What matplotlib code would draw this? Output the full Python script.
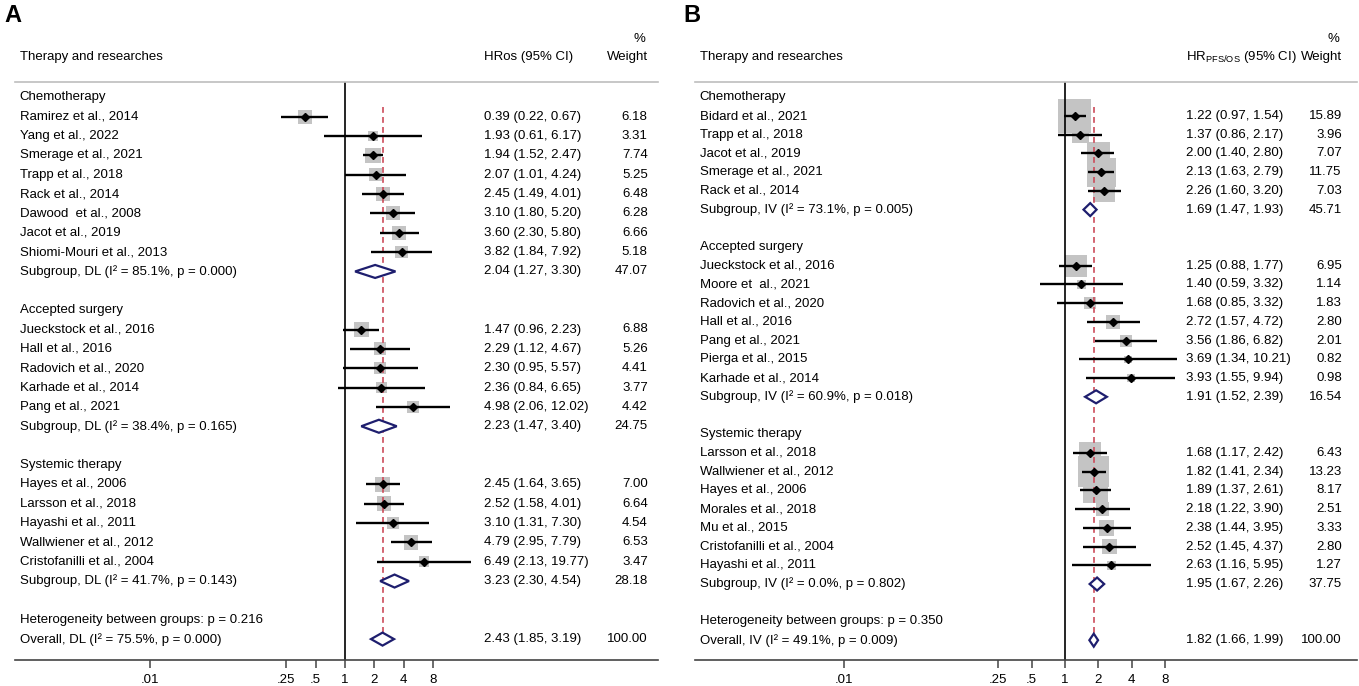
import numpy as np
import matplotlib
matplotlib.use("Agg")
import matplotlib.pyplot as plt

plt.rcParams['font.family'] = ['Liberation Sans', 'DejaVu Sans']
plt.rcParams['font.size'] = 9.5

# ---------------- panel A data (overall survival) ----------------
a_groups = ["Chemotherapy", "Accepted surgery", "Systemic therapy"]
a_names = [
    ["Ramirez et al., 2014", "Yang et al., 2022", "Smerage et al., 2021", "Trapp et al., 2018",
     "Rack et al., 2014", "Dawood  et al., 2008", "Jacot et al., 2019", "Shiomi-Mouri et al., 2013"],
    ["Jueckstock et al., 2016", "Hall et al., 2016", "Radovich et al., 2020", "Karhade et al., 2014",
     "Pang et al., 2021"],
    ["Hayes et al., 2006", "Larsson et al., 2018", "Hayashi et al., 2011", "Wallwiener et al., 2012",
     "Cristofanilli et al., 2004"],
]
a_hr = [[0.39, 1.93, 1.94, 2.07, 2.45, 3.10, 3.60, 3.82],
        [1.47, 2.29, 2.30, 2.36, 4.98],
        [2.45, 2.52, 3.10, 4.79, 6.49]]
a_lo = [[0.22, 0.61, 1.52, 1.01, 1.49, 1.80, 2.30, 1.84],
        [0.96, 1.12, 0.95, 0.84, 2.06],
        [1.64, 1.58, 1.31, 2.95, 2.13]]
a_hi = [[0.67, 6.17, 2.47, 4.24, 4.01, 5.20, 5.80, 7.92],
        [2.23, 4.67, 5.57, 6.65, 12.02],
        [3.65, 4.01, 7.30, 7.79, 19.77]]
a_wt = [[6.18, 3.31, 7.74, 5.25, 6.48, 6.28, 6.66, 5.18],
        [6.88, 5.26, 4.41, 3.77, 4.42],
        [7.00, 6.64, 4.54, 6.53, 3.47]]
a_sub_label = ["Subgroup, DL (I² = 85.1%, p = 0.000)",
               "Subgroup, DL (I² = 38.4%, p = 0.165)",
               "Subgroup, DL (I² = 41.7%, p = 0.143)"]
a_sub_hr = [2.04, 2.23, 3.23]
a_sub_lo = [1.27, 1.47, 2.30]
a_sub_hi = [3.30, 3.40, 4.54]
a_sub_wt = [47.07, 24.75, 28.18]
a_het = "Heterogeneity between groups: p = 0.216"
a_overall_label = "Overall, DL (I² = 75.5%, p = 0.000)"
a_overall = [2.43, 1.85, 3.19, 100.00]

# ---------------- panel B data (PFS/OS) ----------------
b_groups = ["Chemotherapy", "Accepted surgery", "Systemic therapy"]
b_names = [
    ["Bidard et al., 2021", "Trapp et al., 2018", "Jacot et al., 2019", "Smerage et al., 2021",
     "Rack et al., 2014"],
    ["Jueckstock et al., 2016", "Moore et  al., 2021", "Radovich et al., 2020", "Hall et al., 2016",
     "Pang et al., 2021", "Pierga et al., 2015", "Karhade et al., 2014"],
    ["Larsson et al., 2018", "Wallwiener et al., 2012", "Hayes et al., 2006", "Morales et al., 2018",
     "Mu et al., 2015", "Cristofanilli et al., 2004", "Hayashi et al., 2011"],
]
b_hr = [[1.22, 1.37, 2.00, 2.13, 2.26],
        [1.25, 1.40, 1.68, 2.72, 3.56, 3.69, 3.93],
        [1.68, 1.82, 1.89, 2.18, 2.38, 2.52, 2.63]]
b_lo = [[0.97, 0.86, 1.40, 1.63, 1.60],
        [0.88, 0.59, 0.85, 1.57, 1.86, 1.34, 1.55],
        [1.17, 1.41, 1.37, 1.22, 1.44, 1.45, 1.16]]
b_hi = [[1.54, 2.17, 2.80, 2.79, 3.20],
        [1.77, 3.32, 3.32, 4.72, 6.82, 10.21, 9.94],
        [2.42, 2.34, 2.61, 3.90, 3.95, 4.37, 5.95]]
b_wt = [[15.89, 3.96, 7.07, 11.75, 7.03],
        [6.95, 1.14, 1.83, 2.80, 2.01, 0.82, 0.98],
        [6.43, 13.23, 8.17, 2.51, 3.33, 2.80, 1.27]]
b_sub_label = ["Subgroup, IV (I² = 73.1%, p = 0.005)",
               "Subgroup, IV (I² = 60.9%, p = 0.018)",
               "Subgroup, IV (I² = 0.0%, p = 0.802)"]
b_sub_hr = [1.69, 1.91, 1.95]
b_sub_lo = [1.47, 1.52, 1.67]
b_sub_hi = [1.93, 2.39, 2.26]
b_sub_wt = [45.71, 16.54, 37.75]
b_het = "Heterogeneity between groups: p = 0.350"
b_overall_label = "Overall, IV (I² = 49.1%, p = 0.009)"
b_overall = [1.82, 1.66, 1.99, 100.00]

tick_vals = [0.01, 0.25, 0.5, 1, 2, 4, 8]
tick_labs = [".01", ".25", ".5", "1", "2", "4", "8"]

W, H = 1359, 686
fig = plt.figure(figsize=(W / 100, H / 100), dpi=100)

BOX_C = "#c4c4c4"
DIA_C = "#1e1e6e"
RED_C = "#cc4b5a"


def panel(px_left, px_right, one_px, dbl_px, row_dy, hr_head, x_val, x_wt, box_k,
          groups, names, hr, lo, hi, wt, sub_label, sub_hr, sub_lo, sub_hi, sub_wt,
          het, ov_label, ov):
    top_px, bot_px, row0_px = 82, 660, 97.3
    ax = fig.add_axes([px_left / W, 1 - bot_px / H, (px_right - px_left) / W, (bot_px - top_px) / H])
    ax.set_xscale('log', base=2)
    ax.set_xlim(2 ** ((px_left - one_px) / dbl_px), 2 ** ((px_right - one_px) / dbl_px))
    ax.set_ylim((bot_px - row0_px) / row_dy, (top_px - row0_px) / row_dy)
    tr = ax.get_yaxis_transform()

    r = 0
    first_study = None
    for g in range(len(groups)):
        ax.text(x_val * 0 + 0.007, r, groups[g], transform=tr, va='center', ha='left')
        r += 1
        rows = np.arange(r, r + len(names[g]))
        if first_study is None:
            first_study = r
        side = box_k * np.sqrt(np.array(wt[g])) * 0.72
        ax.scatter(hr[g], rows, s=side ** 2, marker='s', color=BOX_C, lw=0, zorder=1)
        ax.hlines(rows, lo[g], hi[g], color='black', lw=1.7, zorder=3)
        ax.plot(hr[g], rows, 'D', color='black', ms=4, zorder=4)
        for i in range(len(names[g])):
            ax.text(0.007, rows[i], names[g][i], transform=tr, va='center', ha='left')
            ax.text(x_val, rows[i], f"{hr[g][i]:.2f} ({lo[g][i]:.2f}, {hi[g][i]:.2f})",
                    transform=tr, va='center', ha='left')
            ax.text(x_wt, rows[i], f"{wt[g][i]:.2f}", transform=tr, va='center', ha='right')
        r += len(names[g])
        hh = 6.5 / row_dy
        ax.fill([sub_lo[g], sub_hr[g], sub_hi[g], sub_hr[g]], [r, r - hh, r, r + hh],
                facecolor='white', edgecolor=DIA_C, lw=1.6, zorder=5)
        ax.text(0.007, r, sub_label[g], transform=tr, va='center', ha='left')
        ax.text(x_val, r, f"{sub_hr[g]:.2f} ({sub_lo[g]:.2f}, {sub_hi[g]:.2f})",
                transform=tr, va='center', ha='left')
        ax.text(x_wt, r, f"{sub_wt[g]:.2f}", transform=tr, va='center', ha='right')
        r += 2
    ax.text(0.007, r, het, transform=tr, va='center', ha='left')
    r += 1
    hh = 6.5 / row_dy
    ax.fill([ov[1], ov[0], ov[2], ov[0]], [r, r - hh, r, r + hh],
            facecolor='white', edgecolor=DIA_C, lw=1.6, zorder=5)
    ax.plot([ov[0], ov[0]], [first_study - 0.5, r - hh], color=RED_C, lw=1.2,
            dashes=(3.5, 2.5), zorder=2)
    ax.text(0.007, r, ov_label, transform=tr, va='center', ha='left')
    ax.text(x_val, r, f"{ov[0]:.2f} ({ov[1]:.2f}, {ov[2]:.2f})", transform=tr, va='center', ha='left')
    ax.text(x_wt, r, f"{ov[3]:.2f}", transform=tr, va='center', ha='right')

    ax.axvline(1, color='black', lw=1.2, zorder=2)

    # header
    hy = (56.7 - row0_px) / row_dy
    py = (39 - row0_px) / row_dy
    ax.text(0.007, hy, "Therapy and researches", transform=tr, va='center', ha='left', clip_on=False)
    ax.text(x_val, hy, hr_head, transform=tr, va='center', ha='left', clip_on=False)
    ax.text(x_wt, hy, "Weight", transform=tr, va='center', ha='right', clip_on=False)
    ax.text(x_wt - 0.004, py, "%", transform=tr, va='center', ha='right', clip_on=False)

    for s in ['left', 'right']:
        ax.spines[s].set_visible(False)
    ax.spines['top'].set_color('#bdbdbd')
    ax.spines['top'].set_linewidth(1.2)
    ax.spines['bottom'].set_color('#444444')
    ax.spines['bottom'].set_linewidth(1.2)
    ax.set_yticks([])
    ax.set_xticks(tick_vals)
    ax.set_xticklabels(tick_labs)
    ax.minorticks_off()
    ax.tick_params(axis='x', direction='out', length=6, width=1.1, color='#444444', pad=4,
                   labelsize=9.5)
    return ax


panel(15, 658, 345, 29.3, 19.35, "HRos (95% CI)", 0.729, 0.984, 5.6,
      a_groups, a_names, a_hr, a_lo, a_hi, a_wt, a_sub_label, a_sub_hr, a_sub_lo, a_sub_hi, a_sub_wt,
      a_het, a_overall_label, a_overall)
panel(695, 1357, 1065, 33.3, 18.72, r"HR$\mathregular{_{PFS/OS}}$ (95% CI)", 0.742, 0.977, 8.5,
      b_groups, b_names, b_hr, b_lo, b_hi, b_wt, b_sub_label, b_sub_hr, b_sub_lo, b_sub_hi, b_sub_wt,
      b_het, b_overall_label, b_overall)

fig.text(4 / W, 1 - 16 / H, "A", fontsize=17, fontweight='bold', va='center', ha='left')
fig.text(683 / W, 1 - 16 / H, "B", fontsize=17, fontweight='bold', va='center', ha='left')

fig.savefig("out.png", dpi=100)
